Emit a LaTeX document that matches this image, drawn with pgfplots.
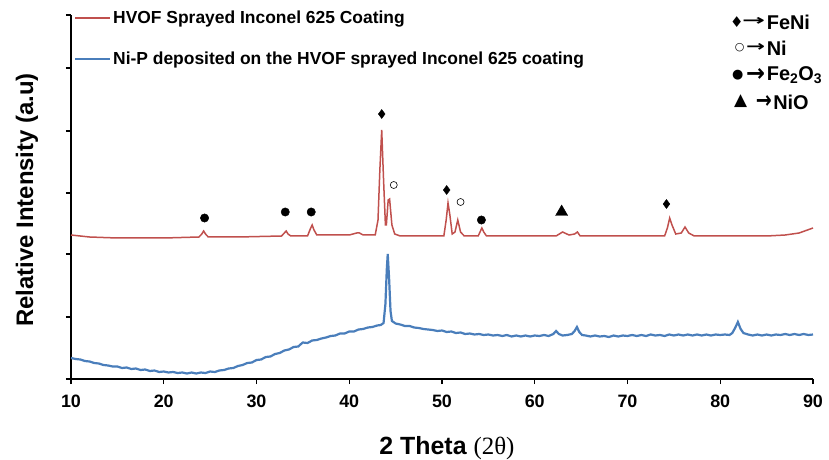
\documentclass[border=0pt]{standalone}
\usepackage{pgfplots}
\pgfplotsset{compat=1.18}
\usepackage{graphicx}
\usepackage{fontspec}
\setmainfont{Liberation Sans}
\newfontfamily\serifb{Liberation Serif}
\newfontfamily\symf{DejaVu Sans}
\definecolor{xrdred}{RGB}{192,80,77}
\definecolor{xrdblue}{RGB}{74,126,187}
\newcommand{\arr}[2]{\resizebox{#1}{#2}{\symf\bfseries →}}
\begin{document}
\begin{tikzpicture}
\begin{axis}[
  at={(0,0)}, anchor=south west,
  scale only axis, width=742bp, height=364bp,
  xmin=10, xmax=90, ymin=0, ymax=364,
  axis lines=left,
  axis line style={-, line width=1.6bp, black},
  xtick={10,20,...,90},
  ytick={0,62,125,186,248,311,364},
  yticklabels={},
  tick align=outside,
  major tick length=5bp,
  tick style={black, line width=1.3bp},
  /pgf/number format/assume math mode=true,
  ticklabel style={font=\bfseries\fontsize{18}{20}\selectfont},
  xticklabel style={yshift=-7bp},
  xlabel={\bfseries\fontsize{25}{27}\selectfont 2 Theta {\serifb\mdseries\fontsize{25}{27}\selectfont(2θ)}},
  ylabel={\bfseries\fontsize{24}{26}\selectfont Relative Intensity (a.u)},
  xlabel style={at={(axis description cs:0.5,0)}, anchor=center, xshift=5bp, yshift=-69bp},
  ylabel style={at={(axis description cs:-0.0593,0.492)}, anchor=center},
  clip=false,
  legend style={at={(rel axis cs:0,1)}, anchor=north west, xshift=3bp, yshift=6bp,
    draw=none, fill=none, inner sep=0pt, row sep=23bp,
    font=\bfseries\fontsize{17.5}{19}\selectfont},
  legend cell align=left,
  legend image code/.code={\draw[#1, line width=2bp] (0bp,0bp) -- (35bp,0bp);},
]
\addplot[xrdred, line width=1.5bp] coordinates {
(10,144) (12,142) (15,141) (18,141) (20,141) (23.8,142) (24.1,145) (24.3,148) (24.5,145) (24.8,142)
(28,142) (32.7,143) (33.0,146) (33.2,148) (33.4,145) (33.7,143) (35.5,143) (35.8,150) (36.0,154) (36.2,149) (36.5,144)
(40,144) (40.8,146) (41.1,146) (41.5,144) (42.8,144) (43.1,159) (43.3,209) (43.5,249) (43.7,199) (43.9,154) (44.0,154)
(44.2,179) (44.35,180) (44.6,154) (44.9,145) (45.5,143) (50.2,143) (50.45,159) (50.65,176) (50.85,164) (51.1,145)
(51.4,147) (51.7,159) (52.0,147) (52.4,143) (53.9,143) (54.1,147) (54.3,151) (54.5,147) (54.8,143)
(62.3,143) (63.0,147) (63.7,144) (64.3,145) (64.6,147) (64.9,143) (74.0,143) (74.3,151) (74.55,161) (74.8,154) (75.2,145)
(75.8,146) (76.2,152) (76.6,146) (77.2,143) (85,143) (87,144) (88.5,146) (90,151)
};
\addlegendentry{HVOF Sprayed Inconel 625 Coating}
\addplot[xrdblue, line width=2.2bp] coordinates {
(10,21) (10.5,20) (11,19.5) (11.5,18) (12,17.5) (12.5,16) (13,15.5) (13.5,14) (14,13.5) (14.5,12.5)
(15,12.5) (15.5,11) (16,11.5) (16.5,10) (17,10.5) (17.5,9) (18,9.5) (18.5,8) (19,8.5) (19.5,7)
(20,7.5) (20.5,6.5) (21,7) (21.5,6) (22,6.5) (22.5,5.5) (23,6.5) (23.5,5.5) (24,6.5) (24.5,6)
(25,7.5) (25.5,7) (26,8.5) (26.5,9) (27,10.5) (27.5,11) (28,13) (28.5,14) (29,16) (29.5,16.5)
(30,19) (30.5,19.5) (31,22) (31.5,22.5) (32,25) (32.5,26) (33,28.5) (33.5,29.5) (34,32) (34.5,32.5)
(34.8,35) (35,36.5) (35.5,36) (36,38.5) (36.5,39) (37,40.5) (37.5,41.5) (38,43) (38.5,43.5) (39,45.5)
(39.5,45.5) (40,47.5) (40.5,47.5) (41,49.5) (41.5,50) (42,51.5) (42.5,52) (43,53.5) (43.4,54) (43.7,56)
(43.9,75) (44.05,110) (44.15,125) (44.3,100) (44.45,68) (44.6,58) (45,55.5) (45.5,54.5) (46,53) (46.5,53)
(47,51.5) (47.5,51) (48,50) (48.5,49.5) (49,49) (49.5,48) (50,48.5) (50.5,47) (51,47.5) (51.5,46)
(52,46.5) (52.5,45) (53,45.5) (53.5,44.5) (54,45) (54.5,44) (55,44.5) (55.5,43.5) (56,44) (56.5,43)
(57,44) (57.5,42.5) (58,43.5) (58.5,42.5) (59,43.5) (59.5,42.5) (60,43.5) (60.5,43) (61,44) (61.5,43)
(62,45) (62.3,48) (62.6,45) (63,43.5) (63.5,44) (64,45) (64.3,48) (64.55,52) (64.8,47) (65.1,44)
(65.5,43.5) (66,42.5) (66.5,43.5) (67,42.5) (67.5,43) (68,42) (68.5,43.5) (69,42.5) (69.5,43.5) (70,43)
(70.5,44) (71,43) (71.5,44) (72,43) (72.5,44.5) (73,43.5) (73.5,44) (74,43) (74.5,44.5) (75,43.5)
(75.5,44.5) (76,43.5) (76.5,44.5) (77,43.5) (77.5,44.5) (78,43.5) (78.5,44.5) (79,43.5) (79.5,44.5) (80,44)
(80.5,44.5) (81,44) (81.3,46) (81.6,51) (81.9,57) (82.2,50) (82.5,46) (83,44.5) (83.5,43.5) (84,44.5)
(84.5,43.5) (85,44.5) (85.5,43.5) (86,44.5) (86.5,44) (87,45) (87.5,44) (88,45) (88.5,44) (89,45)
(89.5,44) (90,44.5)
};
\addlegendentry{Ni-P deposited on the HVOF sprayed Inconel 625 coating}
% phase markers
\addplot[forget plot, only marks, mark=*, mark size=4.2bp, black] coordinates {(24.4,161) (33.1,167) (35.9,167) (54.25,159)};
\addplot[forget plot, only marks, mark=diamond*, mark size=4.5bp, black] coordinates {(43.5,265) (50.5,189) (74.2,175)};
\addplot[forget plot, only marks, mark=o, mark size=3.5bp, black, mark options={line width=0.6bp}] coordinates {(44.8,194) (52.0,177)};
\addplot[forget plot, only marks, mark=triangle*, mark size=7bp, black] coordinates {(62.9,167)};
% phase legend
\node[inner sep=0pt] at (axis cs:81.8,357) {\symf\fontsize{15}{15}\selectfont ♦};
\node[anchor=east, inner sep=0pt] at (axis cs:84.85,357) {\arr{23bp}{8bp}};
\node[anchor=west, inner sep=0pt] at (axis cs:85.0,357) {\bfseries\fontsize{20}{22}\selectfont FeNi};
\node[inner sep=0pt] at (axis cs:82.1,331) {\symf\fontsize{11}{11}\selectfont ○};
\node[anchor=east, inner sep=0pt] at (axis cs:84.85,331) {\arr{19bp}{8bp}};
\node[anchor=west, inner sep=0pt] at (axis cs:85.0,331) {\bfseries\fontsize{20}{22}\selectfont Ni};
\node[inner sep=0pt] at (axis cs:81.9,304) {\symf\fontsize{13}{13}\selectfont ●};
\node[anchor=east, inner sep=0pt] at (axis cs:84.85,304) {\arr{19bp}{13bp}};
\node[anchor=west, inner sep=0pt] at (axis cs:85.0,304) {\bfseries\fontsize{20}{22}\selectfont Fe\textsubscript{2}O\textsubscript{3}};
\node[inner sep=0pt] at (axis cs:82.2,278) {\symf\fontsize{17}{17}\selectfont ▲};
\node[anchor=east, inner sep=0pt] at (axis cs:85.6,277) {\arr{16bp}{13bp}};
\node[anchor=west, inner sep=0pt] at (axis cs:85.7,277) {\bfseries\fontsize{20}{22}\selectfont NiO};
\end{axis}
\pgfresetboundingbox
\path (-71bp,-81bp) rectangle (758bp,379bp);
\end{tikzpicture}
\end{document}
